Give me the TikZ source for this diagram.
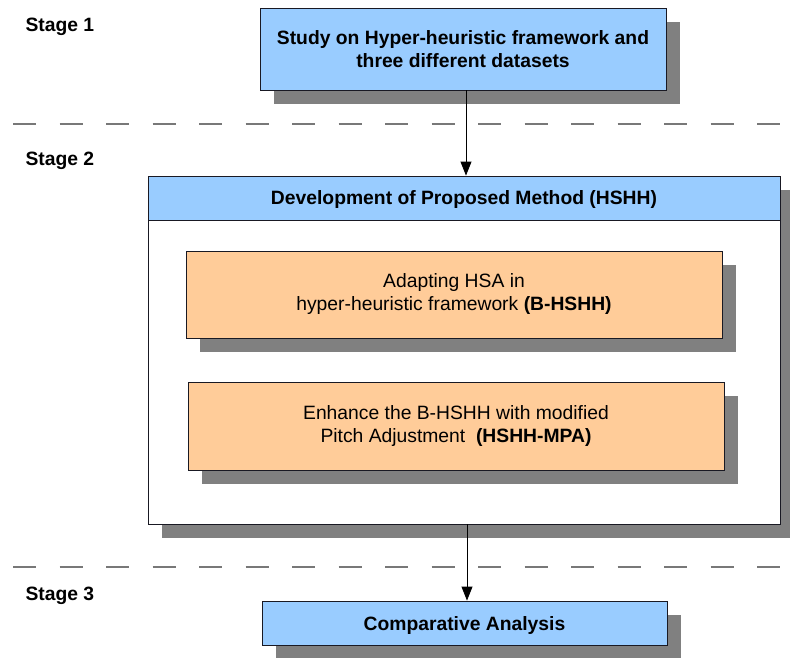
\documentclass[tikz,border=0pt]{standalone}
\usepackage{fontspec}
\setmainfont{Liberation Sans}
\usetikzlibrary{arrows.meta,positioning,shadows}
\definecolor{stageblue}{RGB}{153, 204, 255}
\definecolor{methodorange}{RGB}{255, 204, 153}
\definecolor{shadowgray}{RGB}{128, 128, 128}
\definecolor{edgedark}{RGB}{25, 25, 35}
\definecolor{dividergray}{RGB}{120, 120, 120}
\tikzset{
    boxshadow/.style={general shadow={fill=shadowgray, shadow xshift=14pt, shadow yshift=-14pt}},
    stagebox/.style={draw=edgedark, line width=0.9pt, inner sep=0pt, align=center, boxshadow},
    divider/.style={draw=dividergray, line width=1.6pt, dash pattern=on 23pt off 23.5pt},
    flow/.style={-{Triangle[length=14pt, width=11pt]}, draw=black, line width=0.9pt}
}

\begin{document}
\begin{tikzpicture}[x=1pt, y=-1pt, every node/.style={font=\fontsize{19.3}{23}\selectfont}]
    \useasboundingbox (0,0) rectangle (790,657);

    % Stage labels
    \node[anchor=west, font=\fontsize{19.3}{23}\selectfont\bfseries] (lblone) at (22,27) {Stage 1};
    \node[anchor=west, font=\fontsize{19.3}{23}\selectfont\bfseries] (lbltwo) at (22,161) {Stage 2};
    \node[anchor=west, font=\fontsize{19.3}{23}\selectfont\bfseries] (lblthree) at (22,596) {Stage 3};

    % Stage dividers
    \draw[divider] (13,124) -- (780,124);
    \draw[divider] (13,567) -- (780,567);

    % Stage 1 box
    \node[stagebox, fill=stageblue, minimum width=406pt, minimum height=82pt, font=\fontsize{19.3}{23}\selectfont\bfseries] (study) at (463,49)
        {Study on Hyper-heuristic framework and\\three different datasets};

    % Stage 2 container
    \node[stagebox, fill=white, minimum width=632pt, minimum height=348pt] (method) at (464,350) {};
    \node[draw=edgedark, fill=stageblue, line width=0.9pt, inner sep=0pt, text depth=0pt, minimum width=632pt, minimum height=44pt, font=\fontsize{19.3}{23}\selectfont\bfseries] (header) at (464,198)
        {Development of Proposed Method (HSHH)};
    \node[stagebox, fill=methodorange, minimum width=536pt, minimum height=87pt] (bhshh) at (454,294.5)
        {Adapting HSA in\\hyper-heuristic framework \textbf{(B-HSHH)}};
    \node[stagebox, fill=methodorange, minimum width=536pt, minimum height=88pt] (mpa) at (456,426)
        {Enhance the B-HSHH with modified\\Pitch Adjustment\ \ \textbf{(HSHH-MPA)}};

    % Stage 3 box
    \node[stagebox, fill=stageblue, text depth=0pt, minimum width=405pt, minimum height=44pt, font=\fontsize{19.3}{23}\selectfont\bfseries] (compare) at (464.5,623)
        {Comparative Analysis};

    % Flow arrows
    \draw[flow] ([xshift=3pt]study.south) -- ([xshift=3pt]study.south |- header.north);
    \draw[flow] ([xshift=3pt]method.south) -- ([xshift=3pt]method.south |- compare.north);
\end{tikzpicture}
\end{document}
